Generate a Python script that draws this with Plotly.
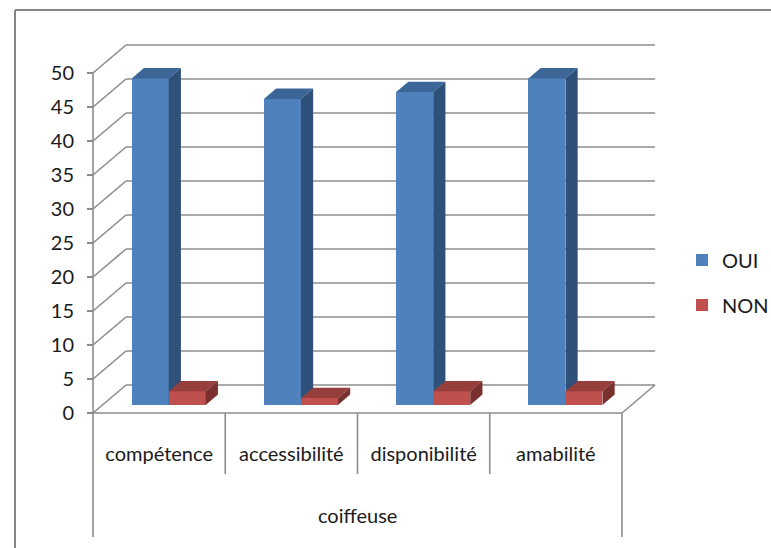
import plotly.graph_objects as go

# ---- data -------------------------------------------------------------
categories = ["compétence", "accessibilité", "disponibilité", "amabilité"]
group_label = "coiffeuse"
oui = [48, 45, 46, 48]
non = [2, 1, 2, 2]
y_ticks = [0, 5, 10, 15, 20, 25, 30, 35, 40, 45, 50]

# ---- oblique "3-D" projection set-up ------------------------------------
W, H = 771, 548
X0_PX, CAT_PX = 93, 132.25      # front-left corner, width of one category
Y0_PX, UNIT_PX = 413, 6.8       # front floor line, pixels per value unit
DX = 33 / CAT_PX                # depth offset of the back wall (x, in categories)
DY = 28 / UNIT_PX               # depth offset of the back wall (y, in value units)
T0, TB = 0.29, 0.37             # bar front depth and bar thickness (fraction of depth)
BW = 0.28                       # bar width in category units

x_range = [-X0_PX / CAT_PX, (W - X0_PX) / CAT_PX]
y_range = [(Y0_PX - H) / UNIT_PX, Y0_PX / UNIT_PX]

FONT = "Lato"
TEXT = "#1a1a1a"
GRID = "#8c8c8c"

series = [
    dict(name="OUI", values=oui, side=-1, front="#4F81BD", top="#3D6698", flank="#2F5079",
         xa="x", ya="y", legend="legend"),
    dict(name="NON", values=non, side=1, front="#C0504D", top="#953E3C", flank="#7A302E",
         xa="x2", ya="y2", legend="legend2"),
]

fig = go.Figure()
n = len(categories)
base = T0 * DY
ddx, ddy = TB * DX, TB * DY

for s in series:
    centers = [i + 0.5 + T0 * DX + s["side"] * BW / 2 for i in range(n)]
    # front faces
    fig.add_trace(go.Bar(
        x=centers, y=s["values"], base=base, width=BW, name=s["name"],
        marker=dict(color=s["front"], line=dict(width=0)),
        xaxis=s["xa"], yaxis=s["ya"], legend=s["legend"],
        hovertemplate="%{customdata}: %{y}<extra>" + s["name"] + "</extra>",
        customdata=categories,
    ))
    # top and side faces
    tx, ty, sx, sy = [], [], [], []
    for c, v in zip(centers, s["values"]):
        xl, xr, yt = c - BW / 2, c + BW / 2, base + v
        tx += [xl, xr, xr + ddx, xl + ddx, xl, None]
        ty += [yt, yt, yt + ddy, yt + ddy, yt, None]
        sx += [xr, xr, xr + ddx, xr + ddx, xr, None]
        sy += [base, yt, yt + ddy, base + ddy, base, None]
    for fx, fy, col in ((tx, ty, s["top"]), (sx, sy, s["flank"])):
        fig.add_trace(go.Scatter(
            x=fx, y=fy, mode="lines", fill="toself", fillcolor=col,
            line=dict(width=0, color=col), showlegend=False, hoverinfo="skip",
            xaxis=s["xa"], yaxis=s["ya"],
        ))

# ---- walls, floor and category frame ------------------------------------
shapes = []
line = dict(color=GRID, width=1.6)
for v in y_ticks:
    # back wall gridline and left wall diagonal
    shapes.append(dict(type="line", x0=DX, x1=n + DX, y0=v + DY, y1=v + DY))
    shapes.append(dict(type="line", x0=0, x1=DX, y0=v, y1=v + DY))
# floor front edge and right edge
shapes.append(dict(type="line", x0=0, x1=n, y0=0, y1=0))
shapes.append(dict(type="line", x0=n, x1=n + DX, y0=0, y1=DY))
# front value axis
shapes.append(dict(type="line", x0=0, x1=0, y0=0, y1=y_ticks[-1]))
# category dividers: inner ones short, outer ones span the group level
inner_end = (Y0_PX - 474) / UNIT_PX
outer_end = (Y0_PX - 537) / UNIT_PX
for i in range(n + 1):
    shapes.append(dict(type="line", x0=i, x1=i, y0=0,
                       y1=outer_end if i in (0, n) else inner_end))
for sh in shapes:
    sh.update(xref="x", yref="y", layer="below", line=line)

# chart frame
frame = dict(color="#878787", width=2)
shapes.append(dict(type="line", xref="paper", yref="paper", x0=15 / W, x1=1.05,
                   y0=1 - 10 / H, y1=1 - 10 / H, line=frame))
shapes.append(dict(type="line", xref="paper", yref="paper", x0=15 / W, x1=15 / W,
                   y0=-0.05, y1=1 - 10 / H, line=frame))

annotations = [dict(
    text=group_label, x=n / 2, y=(Y0_PX - 515) / UNIT_PX, xref="x", yref="y",
    showarrow=False, font=dict(family=FONT, size=20, color=TEXT),
    xanchor="center", yanchor="middle",
)]

hidden = dict(visible=False, showgrid=False, zeroline=False, fixedrange=True)
legend_common = dict(
    xanchor="left", yanchor="middle", x=682 / W, bgcolor="rgba(0,0,0,0)",
    font=dict(family=FONT, size=20, color=TEXT), borderwidth=0,
)

fig.update_layout(
    width=W, height=H, autosize=False,
    margin=dict(l=0, r=0, t=0, b=0, pad=0, autoexpand=False),
    paper_bgcolor="white", plot_bgcolor="rgba(0,0,0,0)",
    barmode="overlay", bargap=0,
    font=dict(family=FONT, size=20, color=TEXT),
    xaxis=dict(
        domain=[0, 1], range=x_range, fixedrange=True,
        anchor="free", position=(H - Y0_PX) / H, automargin=False,
        tickmode="array", tickvals=[i + 0.5 for i in range(n)], ticktext=categories,
        ticks="", showgrid=False, zeroline=False, showline=False,
        ticklabelstandoff=27, tickfont=dict(family=FONT, size=20, color=TEXT),
    ),
    yaxis=dict(
        domain=[0, 1], range=y_range, fixedrange=True,
        anchor="free", position=X0_PX / W, automargin=False,
        tickmode="array", tickvals=y_ticks,
        ticks="outside", ticklen=6, tickwidth=1.6, tickcolor=GRID,
        showgrid=False, zeroline=False, showline=False,
        ticklabelstandoff=9, tickfont=dict(family=FONT, size=20, color=TEXT),
    ),
    xaxis2=dict(overlaying="x", range=x_range, **hidden),
    yaxis2=dict(overlaying="y", range=y_range, **hidden),
    shapes=shapes,
    annotations=annotations,
    legend=dict(y=1 - 260 / H, **legend_common),
    legend2=dict(y=1 - 305 / H, **legend_common),
)

fig.write_html("out.html")
